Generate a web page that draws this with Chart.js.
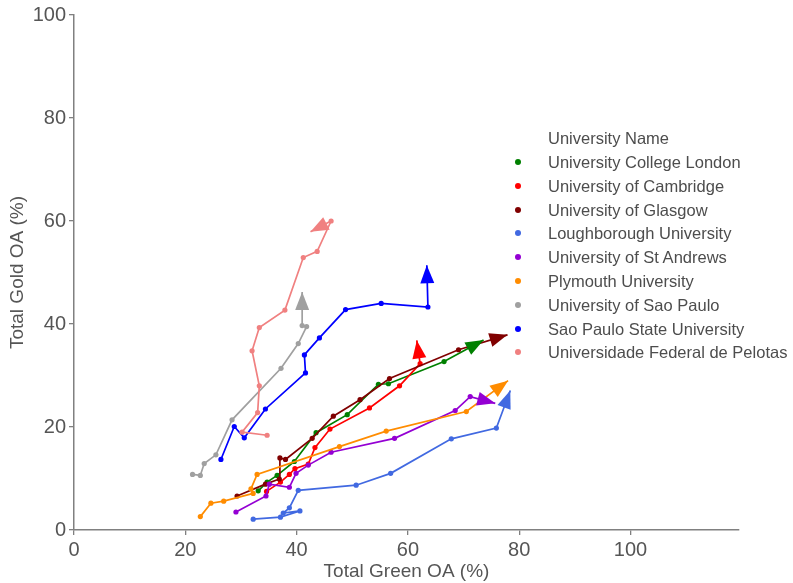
<!DOCTYPE html>
<html lang="en">
<head>
    <meta charset="UTF-8">
    <title>Green vs Gold OA</title>
    <style>
        body { margin: 0; background: #fff; }
        #wrap { position: relative; width: 793px; height: 583px; }
        #grafico { position: absolute; left: 0; top: 0; }
        #legenda { position: absolute; left: 0; top: 0; font-family: 'Liberation Sans', Arial, sans-serif; font-size: 16.5px; color: #4d4d4d; }
        #legenda .row { position: absolute; left: 511px; height: 20px; line-height: 20px; white-space: nowrap; }
        #legenda .dot { position: absolute; left: 4px; top: 7px; width: 6px; height: 6px; border-radius: 50%; }
        #legenda .txt { position: absolute; left: 37px; top: 0; }
    </style>
</head>
<body>
<div id="wrap">
    <canvas id="grafico" width="793" height="583"></canvas>
    <div id="legenda"></div>
</div>
<script src="https://cdn.jsdelivr.net/npm/chart.js"></script>
<script>
    // each series: Total Green OA (x) and Total Gold OA (y) in %; last entry = arrow tip
    const nomes = ['University College London', 'University of Cambridge', 'University of Glasgow',
        'Loughborough University', 'University of St Andrews', 'Plymouth University',
        'University of Sao Paulo', 'Sao Paulo State University', 'Universidade Federal de Pelotas']
    const cores = ['#008000', '#ff0000', '#800000', '#4169e1', '#9400d3', '#ff8c00', '#a0a0a0', '#0000ff', '#f08080']

    const uclGreen = [33.1, 34.7, 36.5, 39.6, 43.5, 49.1, 54.7, 56.5, 66.5, 73.6]
    const uclGold = [7.6, 9.3, 10.6, 13.3, 18.9, 22.4, 28.3, 28.4, 32.7, 36.9]

    const cambGreen = [34.6, 37.1, 38.7, 39.7, 42.1, 43.3, 46.0, 53.1, 58.5, 62.2, 61.6]
    const cambGold = [7.5, 9.3, 10.8, 11.9, 12.8, 16.0, 19.6, 23.7, 28.0, 32.3, 36.8]

    const glasGreen = [29.3, 34.4, 36.9, 37.0, 38.0, 42.8, 46.6, 51.4, 56.7, 69.1, 77.9]
    const glasGold = [6.6, 8.9, 9.9, 14.0, 13.7, 17.8, 22.1, 25.3, 29.4, 35.0, 37.9]

    const loughGreen = [32.2, 37.1, 40.6, 37.6, 38.7, 40.3, 50.7, 56.9, 67.8, 75.9, 78.4]
    const loughGold = [2.1, 2.5, 3.7, 3.3, 4.3, 7.7, 8.7, 11.0, 17.7, 19.8, 27.1]

    const standGreen = [29.1, 34.5, 35.1, 38.7, 39.9, 42.1, 46.2, 57.6, 68.5, 71.2, 75.7]
    const standGold = [3.5, 6.6, 8.9, 8.3, 11.0, 12.6, 15.1, 17.8, 23.2, 25.9, 24.6]

    const plymGreen = [22.7, 24.6, 26.9, 32.2, 31.8, 32.9, 47.7, 56.1, 70.5, 78.0]
    const plymGold = [2.6, 5.2, 5.6, 7.1, 8.0, 10.8, 16.2, 19.2, 23.0, 29.0]

    const uspGreen = [21.3, 22.7, 23.4, 25.5, 28.4, 37.2, 40.3, 41.8, 41.0, 41.0]
    const uspGold = [10.8, 10.6, 12.9, 14.6, 21.4, 31.4, 36.2, 39.5, 39.7, 46.2]

    const unespGreen = [26.4, 28.8, 30.6, 34.4, 41.6, 41.4, 44.1, 48.8, 55.2, 63.6, 63.4]
    const unespGold = [13.7, 20.1, 17.9, 23.5, 30.5, 34.0, 37.3, 42.8, 44.0, 43.3, 51.4]

    const ufpelGreen = [34.7, 30.2, 33.0, 33.3, 32.0, 33.3, 37.9, 41.2, 43.7, 46.2, 42.5]
    const ufpelGold = [18.4, 19.0, 22.8, 28.0, 34.8, 39.3, 42.7, 52.9, 54.1, 60.0, 57.9]

    const xTicks = [0, 20, 40, 60, 80, 100]
    const yTicks = [0, 20, 40, 60, 80, 100]

    const series = [
        [uclGreen, uclGold], [cambGreen, cambGold], [glasGreen, glasGold],
        [loughGreen, loughGold], [standGreen, standGold], [plymGreen, plymGold],
        [uspGreen, uspGold], [unespGreen, unespGold], [ufpelGreen, ufpelGold]
    ]

    const datasets = series.map(([xs, ys], i) => ({
        label: nomes[i],
        data: xs.map((x, k) => ({ x: x, y: ys[k] })),
        showLine: true,
        borderColor: cores[i],
        backgroundColor: cores[i],
        pointBackgroundColor: cores[i],
        borderWidth: 1.7,
        pointBorderWidth: 0,
        pointRadius: c => c.dataIndex === xs.length - 1 ? 0 : 2.6,
        order: series.length - i
    }))

    // draws the arrow heads at the end of each line
    const pontas = {
        id: 'pontas',
        afterDatasetsDraw(chart) {
            const ctx = chart.ctx
            chart.data.datasets.forEach((ds, i) => {
                const pts = chart.getDatasetMeta(i).data
                const a = pts[pts.length - 2], b = pts[pts.length - 1]
                const ang = Math.atan2(b.y - a.y, b.x - a.x)
                ctx.save()
                ctx.translate(b.x, b.y)
                ctx.rotate(ang)
                ctx.beginPath()
                ctx.moveTo(0, 0)
                ctx.lineTo(-18, -7)
                ctx.lineTo(-18, 7)
                ctx.closePath()
                ctx.fillStyle = ds.borderColor
                ctx.fill()
                ctx.restore()
            })
        }
    }

    Chart.defaults.font.family = "'Liberation Sans', Arial, sans-serif"
    Chart.defaults.color = '#555'

    const eixo = {
        grid: { drawOnChartArea: false, tickLength: 5, color: '#808080', lineWidth: 1.3 },
        border: { color: '#808080', width: 1.5 },
        ticks: { font: { size: 20 }, color: '#555', padding: 3 }
    }

    new Chart(document.getElementById('grafico'), {
        type: 'scatter',
        data: { datasets: datasets },
        options: {
            responsive: false,
            animation: false,
            layout: { padding: { top: 13, right: 54, left: 0, bottom: 0 } },
            plugins: { legend: { display: false }, tooltip: { enabled: false } },
            scales: {
                x: {
                    ...eixo,
                    type: 'linear', min: 0, max: 119.5,
                    afterBuildTicks: s => { s.ticks = xTicks.map(v => ({ value: v })) },
                    afterFit: s => { s.height = 53 },
                    title: { display: true, text: 'Total Green OA (%)', font: { size: 19 }, color: '#555', padding: { top: 2, bottom: 0 } }
                },
                y: {
                    ...eixo,
                    type: 'linear', min: 0, max: 100,
                    afterBuildTicks: s => { s.ticks = yTicks.map(v => ({ value: v })) },
                    afterFit: s => { s.width = 74 },
                    title: { display: true, text: 'Total Gold OA (%)', font: { size: 19 }, color: '#555', padding: { top: 6, bottom: 4 } }
                }
            }
        },
        plugins: [pontas]
    })

    // legend on the right
    const legenda = document.getElementById('legenda')
    const titulo = document.createElement('div')
    titulo.className = 'row'
    titulo.style.top = (138 - 10) + 'px'
    titulo.innerHTML = '<span class="txt">University Name</span>'
    legenda.appendChild(titulo)
    nomes.forEach((n, i) => {
        const row = document.createElement('div')
        row.className = 'row'
        row.style.top = (162 - 10 + i * 23.8) + 'px'
        row.innerHTML = '<span class="dot" style="background:' + cores[i] + '"></span><span class="txt">' + n + '</span>'
        legenda.appendChild(row)
    })
</script>
</body>
</html>
